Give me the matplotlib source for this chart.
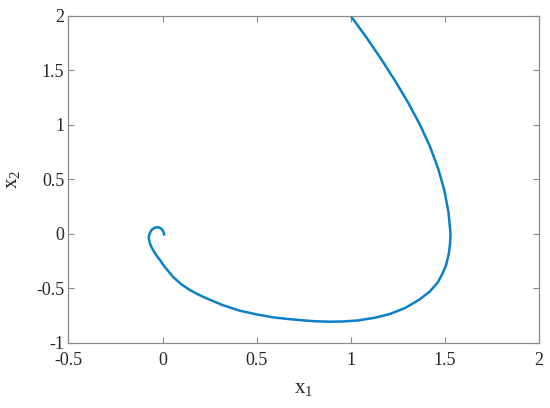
import matplotlib
matplotlib.use("Agg")
import matplotlib.pyplot as plt

# trajectory points (start at top, spiral into origin)
x1 = [1.000, 1.084, 1.163, 1.237, 1.306, 1.368, 1.421, 1.464, 1.497, 1.519,
      1.530, 1.527, 1.520, 1.506, 1.488, 1.463, 1.420, 1.364, 1.290, 1.210,
      1.130, 1.040, 0.960, 0.887, 0.810, 0.728, 0.660, 0.587, 0.500, 0.410,
      0.320, 0.233, 0.188, 0.145, 0.100, 0.056, 0.010, -0.014, -0.032, -0.045, -0.058,
      -0.067, -0.072, -0.073, -0.068, -0.058, -0.046, -0.032, -0.020, -0.008,
      0.002, 0.006, 0.008]
x2 = [2.000, 1.800, 1.600, 1.400, 1.200, 1.000, 0.800, 0.600, 0.400, 0.200,
      0.000, -0.100, -0.190, -0.290, -0.363, -0.445, -0.530, -0.605, -0.680, -0.735,
      -0.770, -0.795, -0.805, -0.807, -0.803, -0.792, -0.781, -0.767, -0.740, -0.706,
      -0.655, -0.592, -0.556, -0.516, -0.464, -0.396, -0.300, -0.240, -0.200, -0.165, -0.125,
      -0.088, -0.050, -0.027, 0.005, 0.035, 0.052, 0.060, 0.058, 0.048,
      0.030, 0.010, -0.005]

xticks = [-0.5, 0, 0.5, 1, 1.5, 2]
yticks = [-1, -0.5, 0, 0.5, 1, 1.5, 2]

plt.rcParams['font.family'] = ['Liberation Serif', 'DejaVu Serif']
plt.rcParams['mathtext.fontset'] = 'custom'
plt.rcParams['mathtext.rm'] = 'Liberation Serif'
plt.rcParams['mathtext.it'] = 'Liberation Serif'

fig = plt.figure(figsize=(5.5, 4.08), dpi=100)
ax = fig.add_axes([0.1244, 0.160, 0.8556, 0.801])
ax.plot(x1, x2, color='#0b7fc7', lw=1.8, solid_joinstyle='round')

ax.set_xlim(-0.5, 2)
ax.set_ylim(-1, 2)
ax.set_xticks(xticks)
ax.set_yticks(yticks)
ax.set_xticklabels(['-0.5', '0', '0.5', '1', '1.5', '2'])
ax.set_yticklabels(['-1', '-0.5', '0', '0.5', '1', '1.5', '2'])
ax.tick_params(direction='in', length=4, width=0.8, color='#8a8a8a',
               labelsize=13, labelcolor='#262626', top=True, right=True, pad=3)
ax.tick_params(axis='x', pad=7)
for s in ax.spines.values():
    s.set_color('#8a8a8a')
    s.set_linewidth(0.9)

ax.set_xlabel(r'$\mathregular{x_1}$', fontsize=15, color='#262626', labelpad=7)
ax.set_ylabel(r'$\mathregular{x_2}$', fontsize=15, color='#262626', labelpad=10)

fig.savefig('out.png', dpi=100)
